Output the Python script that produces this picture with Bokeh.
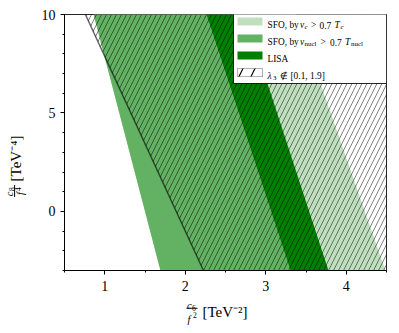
import numpy as np
from bokeh.plotting import figure
from bokeh.layouts import row, column
from bokeh.models import Label, BoxAnnotation, FixedTicker, Range1d
from bokeh.embed import file_html
from bokeh.resources import INLINE

# ---------------- data ----------------
y_edges = [-3.0, 10.0]                 # c8/f^4 at bottom and top of each band edge
hatch_left_x = [2.226, 0.760]          # boundary of lambda_3 not in [0.1, 1.9]
nucl_left_x = [1.692, 0.861]           # SFO by v_nucl > 0.7 T_nucl : left edge
nucl_right_x = [3.307, 2.263]          # SFO by v_nucl > 0.7 T_nucl : right edge
lisa_left_x = [3.307, 2.263]           # LISA : left edge
lisa_right_x = [3.779, 2.742]          # LISA : right edge
vc_left_x = [1.692, 0.861]             # SFO by v_c > 0.7 T_c : left edge
vc_right_x = [4.487, 3.381]            # SFO by v_c > 0.7 T_c : right edge
x_lim = [0.5, 4.5]
y_lim = [-3.0, 10.0]
x_major = [1, 2, 3, 4]
x_minor = [0.5, 1.5, 2.5, 3.5, 4.5]
y_major = [0, 5, 10]
y_minor = list(range(-3, 11))

LIGHT = "#bfdfbf"
MED = "#63b163"
DARK = "#008000"
SERIF = "Liberation Serif"

# layout (canvas px)
YL_W = 30                 # width of the y-label strip
FL, FT, FR, FB = 64, 14, 386, 270
RB = 5                    # right border
P_H = 298                 # height of the top row
TOT_H = 325


def band(left, right):
    return [left[0], left[1], right[1], right[0]], [y_edges[0], y_edges[1], y_edges[1], y_edges[0]]


p = figure(frame_width=FR - FL, frame_height=FB - FT,
           min_border_left=FL - YL_W, min_border_right=RB,
           min_border_top=FT, min_border_bottom=P_H - FB,
           x_range=Range1d(*x_lim), y_range=Range1d(*y_lim),
           output_backend="svg", toolbar_location=None)
p.background_fill_color = "white"
p.border_fill_color = "white"
p.xgrid.visible = False
p.ygrid.visible = False
p.outline_line_color = "black"
p.outline_line_width = 1
p.outline_line_alpha = 0.85

xs, ys = band(vc_left_x, vc_right_x)
p.patch(xs, ys, fill_color=LIGHT, line_color=None)
xs, ys = band(nucl_left_x, nucl_right_x)
p.patch(xs, ys, fill_color=MED, line_color=None)
xs, ys = band(lisa_left_x, lisa_right_x)
p.patch(xs, ys, fill_color=DARK, line_color=None)

hx = [hatch_left_x[0], hatch_left_x[1], x_lim[1], x_lim[1]]
hy = [y_edges[0], y_edges[1], y_edges[1], y_edges[0]]
p.patch(hx, hy, fill_alpha=0, line_color=None, hatch_pattern="/",
        hatch_color="black", hatch_alpha=0.55, hatch_scale=10, hatch_weight=0.9)
p.line(hatch_left_x, y_edges, line_color="black", line_alpha=0.6, line_width=1.5)

for ax, maj, mnr in ((p.xaxis, x_major, x_minor), (p.yaxis, y_major, y_minor)):
    ax.ticker = FixedTicker(ticks=maj, minor_ticks=mnr)
    ax.major_tick_in = 0
    ax.major_tick_out = 4
    ax.minor_tick_in = 0
    ax.minor_tick_out = 2
    ax.axis_line_color = "black"
    ax.major_tick_line_color = "black"
    ax.minor_tick_line_color = "black"
    ax.major_label_text_font = SERIF
    ax.major_label_text_font_size = "14px"
    ax.major_label_text_color = "black"
    ax.axis_label = None
p.yaxis.major_label_standoff = 5
p.xaxis.major_label_standoff = 6


def txt(fig, ox, oy, px, py, s, size, style="normal", angle=0.0,
        align="left", baseline="alphabetic"):
    fig.add_layout(Label(x=px - ox, y=oy - py, x_units="screen", y_units="screen", text=s,
                         text_font=SERIF, text_font_size=f"{size}px", text_font_style=style,
                         text_color="black", text_align=align, text_baseline=baseline,
                         angle=angle))


def box(fig, ox, oy, l, r, t, b, **kw):
    fig.add_layout(BoxAnnotation(left=l - ox, right=r - ox, top=oy - t, bottom=oy - b,
                                 left_units="screen", right_units="screen",
                                 top_units="screen", bottom_units="screen", **kw))


# ---------------- legend (inside main frame) ----------------
box(p, FL, FB, 233, 386, 13, 83, fill_color="white", fill_alpha=1, line_color="black",
    line_width=1, line_alpha=0.85)
sw_cols = [LIGHT, MED, DARK, "white"]
sw_cy = [21, 38, 55, 72]
for c, cy in zip(sw_cols, sw_cy):
    kw = dict(fill_color=c, fill_alpha=1, line_color=None)
    if c == "white":
        kw = dict(fill_color="white", fill_alpha=1, line_color="black", line_width=1.2,
                  hatch_pattern="/", hatch_color="black", hatch_scale=24, hatch_weight=1.2)
    box(p, FL, FB, 237, 262, cy - 4, cy + 4, **kw)

F, S = 9.4, 7


def L(px, py, s, size, style="normal"):
    txt(p, FL, FB, px, py, s, size, style)


b1 = 24.5
L(267, b1, "SFO, by", F)
L(299.5, b1, "v", F, "italic")
L(304, b1 + 2, "c", S, "italic")
L(310.5, b1, ">", F)
L(319, b1, "0.7", F)
L(334, b1, "T", F, "italic")
L(340, b1 + 2, "c", S, "italic")
b2 = 41.5
L(267, b2, "SFO, by", F)
L(299.5, b2, "v", F, "italic")
L(304, b2 + 2, "nucl", S)
L(320, b2, ">", F)
L(329.5, b2, "0.7", F)
L(344.5, b2, "T", F, "italic")
L(350.5, b2 + 2, "nucl", S)
b3 = 58.5
L(267, b3, "LISA", F)
b4 = 75.5
L(267, b4, "λ", F, "italic")
L(272.5, b4 + 2, "3", S)
L(279.5, b4, "∉", F)
L(290, b4, "[0.1, 1.9]", F)

# ---------------- y axis label strip: same vertical borders as the main figure ----------------
fy = figure(frame_width=YL_W, frame_height=FB - FT, min_border_left=0, min_border_right=0,
            min_border_top=FT, min_border_bottom=P_H - FB,
            x_axis_location=None, y_axis_location=None, toolbar_location=None,
            output_backend="svg", outline_line_color=None)
fy.xgrid.visible = False
fy.ygrid.visible = False
R = np.pi / 2
OX, OY = 0, FB - 18      # measured offset of this strip's frame in the rendered page
C = dict(align="center", baseline="middle")
txt(fy, OX, OY, 9.0, 175.5, "c", 10.5, "italic", R, **C)
txt(fy, OX, OY, 11.5, 170.5, "8", 7.5, "normal", R, **C)
box(fy, OX, OY, 13.6, 14.6, 166.5, 178.5, fill_color="black", fill_alpha=1, line_color=None)
txt(fy, OX, OY, 19.5, 175.0, "f", 10.5, "italic", R, **C)
txt(fy, OX, OY, 17.0, 170.5, "4", 7.5, "normal", R, **C)
txt(fy, OX, OY, 15.5, 140.0, "[TeV⁻⁴]", 15, "normal", R, **C)

# ---------------- x axis label strip: same horizontal borders as the top row ----------------
fx = figure(frame_width=FR - FL, frame_height=TOT_H - P_H,
            min_border_left=FL, min_border_right=RB, min_border_top=0, min_border_bottom=0,
            x_axis_location=None, y_axis_location=None, toolbar_location=None,
            output_backend="svg", outline_line_color=None)
fx.xgrid.visible = False
fx.ygrid.visible = False
OX, OY = FL, TOT_H
txt(fx, OX, OY, 186.5, 305, "c", 10.5, "italic")
txt(fx, OX, OY, 191.5, 307, "6", 7.5)
box(fx, OX, OY, 186, 197, 307.2, 308.2, fill_color="black", fill_alpha=1, line_color=None)
txt(fx, OX, OY, 187, 318.5, "f", 10.5, "italic")
txt(fx, OX, OY, 192.5, 314, "2", 7.5)
txt(fx, OX, OY, 202, 311, "[TeV⁻²]", 15)

layout = column(row(fy, p, spacing=0), fx, spacing=0)
open("out.html", "w").write(file_html(layout, INLINE))
